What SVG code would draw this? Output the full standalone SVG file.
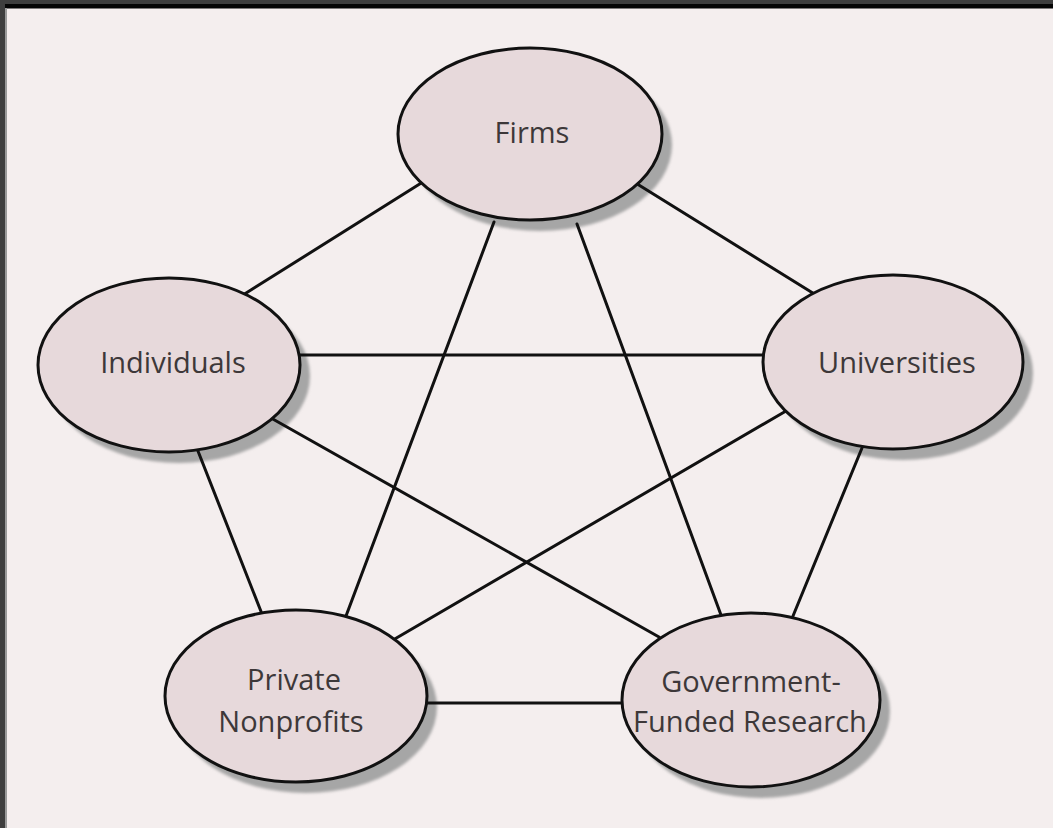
<svg xmlns="http://www.w3.org/2000/svg" width="1053" height="828" viewBox="0 0 1053 828">
<defs>
<filter id="blur" x="-10%" y="-10%" width="120%" height="120%"><feGaussianBlur stdDeviation="1.5"/></filter>
</defs>
<style>
.shadow{fill:#a6a6a6;filter:url(#blur)}
.node{fill:#e7d9db;stroke:#111;stroke-width:3}
.conn line{stroke:#111;stroke-width:3;stroke-linecap:round}
.lbl{font-family:"Open Sans","Noto Sans",sans-serif;font-size:29px;fill:#3d3839;text-anchor:middle}
</style>
<rect x="0" y="0" width="1053" height="828" fill="#f4eeee"/>
<rect x="0" y="0" width="1053" height="4" fill="#3e3e3e"/>
<rect x="0" y="4" width="1053" height="4.5" fill="#050505"/>
<rect x="0" y="0" width="5" height="828" fill="#3e3e3e"/>
<rect x="5" y="8" width="2" height="820" fill="#9a9a9a"/>
<g id="shadows">
<ellipse class="shadow" cx="540" cy="145" rx="132" ry="86"/>
<ellipse class="shadow" cx="179" cy="376" rx="131" ry="87"/>
<ellipse class="shadow" cx="903" cy="373" rx="130" ry="87"/>
<ellipse class="shadow" cx="306" cy="707" rx="131" ry="86"/>
<ellipse class="shadow" cx="761" cy="711" rx="129" ry="87"/>
</g>
<g id="connectors" class="conn">
<line x1="426" y1="180" x2="243" y2="295"/>
<line x1="634" y1="182" x2="816" y2="295"/>
<line x1="494" y1="222" x2="346" y2="616"/>
<line x1="577" y1="224" x2="721" y2="615"/>
<line x1="296" y1="355" x2="767" y2="355"/>
<line x1="271" y1="418" x2="659" y2="637"/>
<line x1="196" y1="446" x2="262" y2="614"/>
<line x1="786" y1="411" x2="393" y2="640"/>
<line x1="862" y1="448" x2="793" y2="616"/>
<line x1="423" y1="703" x2="626" y2="703"/>
</g>
<g id="firms">
<ellipse class="node" cx="530" cy="134" rx="132" ry="86"/>
<text class="lbl" x="532" y="143">Firms</text>
</g>
<g id="individuals">
<ellipse class="node" cx="169" cy="365" rx="131" ry="87"/>
<text class="lbl" x="173" y="373">Individuals</text>
</g>
<g id="universities">
<ellipse class="node" cx="893" cy="362" rx="130" ry="87"/>
<text class="lbl" x="897" y="373">Universities</text>
</g>
<g id="private-nonprofits">
<ellipse class="node" cx="296" cy="696" rx="131" ry="86"/>
<text class="lbl" x="294" y="690">Private</text>
<text class="lbl" x="291" y="732">Nonprofits</text>
</g>
<g id="government-funded-research">
<ellipse class="node" cx="751" cy="700" rx="129" ry="87"/>
<text class="lbl" x="751" y="692">Government-</text>
<text class="lbl" x="750" y="732">Funded Research</text>
</g>
</svg>
